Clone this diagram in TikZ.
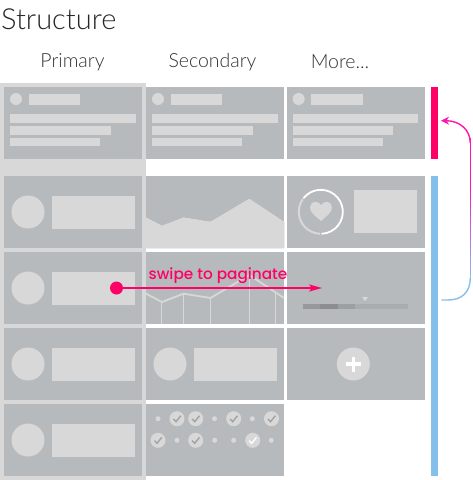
\documentclass[tikz,border=0pt]{standalone}
\usepackage{fontspec}
\setmainfont{Lato}[UprightFont=* Light,BoldFont=* Semibold]
\newfontfamily\swipefont{Poppins}[UprightFont=* Medium]
\usetikzlibrary{arrows.meta}
\definecolor{cellgray}{HTML}{B7BABC}
\definecolor{lightgray}{HTML}{D8D8D8}
\definecolor{swipepink}{HTML}{FF0066}
\definecolor{barblue}{HTML}{85BFEC}
\definecolor{arcpink}{HTML}{FF14B0}
\tikzset{
 cell/.style={fill=cellgray,draw=none,minimum width=138pt,minimum height=72pt,inner sep=0pt,outer sep=0pt,anchor=north west},
 head/.style={font=\fontsize{19.5}{19.5}\selectfont,text=black!80},
 bar/.style={minimum width=7pt,inner sep=0pt,outer sep=0pt,anchor=north west},
 check/.style={circle,fill=lightgray,minimum size=15pt,inner sep=0pt,outer sep=0pt},
 tick/.style={line width=1.4pt,draw=cellgray!88!black},
 dotmark/.style={circle,fill=lightgray,minimum size=5pt,inner sep=0pt,outer sep=0pt},
}
% one card with a small avatar and text lines
\newcommand{\listcard}[1]{
 \fill[lightgray] (#1+16,99) circle (6);
 \fill[lightgray] (#1+28.5,94) rectangle (#1+80,105);
 \fill[lightgray] (#1+10,114) rectangle (#1+135.5,122.5);
 \fill[lightgray] (#1+10,125.5) rectangle (#1+110.5,134.5);
 \fill[lightgray] (#1+10,137.5) rectangle (#1+100,146);
}
% one card with a big avatar and a block
\newcommand{\blockcard}[2]{
 \fill[lightgray] (#1+28,#2+36) circle (16.5);
 \fill[lightgray] (#1+52,#2+19.5) rectangle (#1+134.5,#2+52.5);
}
\begin{document}
\begin{tikzpicture}[x=1pt,y=-1pt,>=Stealth]
\useasboundingbox (0,0) rectangle (472,480);
\node[anchor=west,font=\fontsize{29}{29}\selectfont,text=black!85,inner sep=0pt] (title) at (1,19) {Structure};
\node[head] (primary) at (72.5,62) {Primary};
\node[head] (secondary) at (212.5,62) {Secondary};
\node[head] (more) at (340,62) {More...};
% primary column
\fill[lightgray] (0,83) rectangle (146,480);
\foreach \name/\x/\y in {a/4/87,b/146/87,c/286.7/87,d/4/176,e/146/176,f/286.7/176,g/4/252,h/146/252,i/286.7/252,j/4/328,k/146/328,l/286.7/328,m/4/404,n/146/404}
 \node[cell] (cell\name) at (\x,\y) {};
\listcard{0}
\listcard{142}
\listcard{282.7}
\foreach \x/\y in {0/176,0/252,0/328,0/404,142/328}
 \blockcard{\x}{\y}
% charts
\fill[lightgray] (146,217.7)--(162,226)--(183.5,217.7)--(210.5,222)--(249.3,199)--(275.7,216.5)--(284,222)--(284,248)--(146,248)--cycle;
\draw[lightgray,line width=1.8pt] (146,293.7)--(162,302)--(183.5,293.7)--(210.5,298)--(249.3,275)--(275.7,292.5)--(284,298);
\foreach \x/\y in {161.5/302,183.7/294,210.7/298,249.3/275,275.7/292.5}
 \draw[lightgray,line width=1.1pt] (\x,\y)--(\x,324);
% heart and ring
\draw[white,line width=1.8pt] (320.8,211.8) ++(-142:22) arc (-142:88:22);
\draw[lightgray,line width=2pt] (320.8,211.8) ++(92:22) arc (92:215:22);
\fill[lightgray] (321,221) .. controls (314,215) and (310,212) .. (310,207.5) .. controls (310,201) and (318,200) .. (321,205) .. controls (324,200) and (332,201) .. (332,207.5) .. controls (332,212) and (328,215) .. (321,221);
\fill[lightgray] (354,189.5) rectangle (417,232.5);
% slider
\fill[cellgray!82!black] (303,304) rectangle (320,308.5);
\fill[cellgray!76!black] (320,304) rectangle (338,308.5);
\fill[cellgray!86!black] (338,304) rectangle (355,308.5);
\fill[cellgray!93!black] (355,304) rectangle (408,308.5);
\fill[lightgray] (362,297) -- (368,297) -- (365,301) -- cycle;
% plus
\fill[lightgray] (353.3,364) circle (16.5);
\draw[white,line width=3.4pt] (345.5,364)--(361,364);
\draw[white,line width=3.4pt] (353.3,356.5)--(353.3,372);
% checks and dots
\foreach \n/\x/\y in {1/177/418.7,2/195.7/418.7,3/233.7/418.7,4/271.5/418.7,5/158/440.3,6/195.7/440.3}{
 \node[check] (chk\n) at (\x,\y) {};
 \draw[tick] (\x-3.6,\y+.3)--(\x-1,\y+3)--(\x+3.8,\y-3);
}
\node[check] (chk7) at (252.7,440.3) {};
\draw[white,line width=1.4pt] (252.7-3.6,440.6)--(252.7-1,443.3)--(252.7+3.8,437.3);
\foreach \n/\x/\y in {1/158/418.7,2/214.5/418.7,3/252.3/418.7,4/177/440.3,5/214.7/440.3,6/233.7/440.3,7/271.3/440.3}
 \node[dotmark] (dot\n) at (\x,\y) {};
% bars
\node[bar,fill=swipepink,minimum height=72pt] (pinkbar) at (431,87) {};
\node[bar,fill=barblue,minimum height=300pt] (bluebar) at (431,176) {};
% swipe
\node[circle,fill=swipepink,minimum size=13pt,inner sep=0pt] (swipedot) at (116.5,288) {};
\coordinate (swipeend) at (322,288);
\draw[-{Stealth[length=13pt,width=7pt,inset=3pt]},swipepink,line width=1.2pt] (swipedot)--(swipeend);
\node[anchor=west,text=swipepink,inner sep=0pt,font=\swipefont\fontsize{15.3}{15.3}\selectfont] (swipe) at (148.5,275.5) {swipe to paginate};
% back arrow
\coordinate (backstart) at (441.3,300);
\coordinate (backend) at (441,120.7);
\draw[barblue,line width=1.4pt] (backstart)--(448,300) .. controls (462,300) and (470.3,292) .. (470.3,278);
\foreach \i in {0,...,27}{
 \pgfmathsetmacro{\mixval}{max(0,100-\i*100/18)}
 \draw[barblue!\mixval!arcpink,line width=1.4pt] (470.3,278-\i*5) -- (470.3,272.6-\i*5);
}
\draw[-{Stealth[length=8pt,width=8pt]},arcpink,line width=1.4pt] (470.3,143) .. controls (470.3,130) and (460,120.7) .. (backend);
\end{tikzpicture}
\end{document}
